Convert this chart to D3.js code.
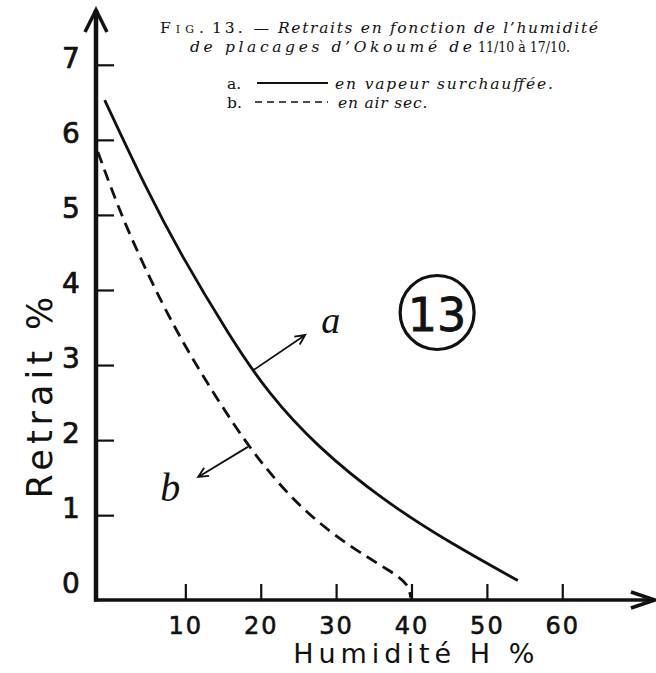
<!DOCTYPE html>
<html>
<head>
<meta charset="utf-8">
<script src="https://cdn.jsdelivr.net/npm/d3@7"></script>
<style>
  body { margin: 0; background: #fff; }
  svg { display: block; }
</style>
</head>
<body>
<script>
// Retrait (%) vs humidité (%) - Fig. 13, placages d'Okoumé
let svgWidth = 656;
let svgHeight = 673;

// tick values
let xTicks = [10, 20, 30, 40, 50, 60];
let yTicks = [0, 1, 2, 3, 4, 5, 6, 7];

// curve a : en vapeur surchauffée (solid)
let humA = [-0.7, 4.9, 9.3, 15.9, 21.0, 27.5, 36.2, 45.1, 54.1];
let retA = [6.53, 5.33, 4.49, 3.38, 2.62, 1.91, 1.20, 0.63, 0.13];

// curve b : en air sec (dashed)
let humB = [-1.6, 1.7, 6.2, 9.2, 11.8, 16.3, 20.3, 25.6, 31.8, 37.5, 39.6, 39.9];
let retB = [5.84, 4.93, 3.96, 3.39, 2.94, 2.22, 1.66, 1.06, 0.58, 0.24, 0.08, -0.1];

let ink = "#111";

let svg = d3.select("body")
  .append("svg")
  .attr("width", svgWidth)
  .attr("height", svgHeight)
  .style("background", "#fff");

let xScale = d3.scaleLinear()
  .domain([-1.85, 72.3])
  .range([96, 655]);

let yScale = d3.scaleLinear()
  .domain([-0.13, 7.73])
  .range([600, 10]);

let x0 = xScale.domain()[0];
let y0 = yScale.domain()[0];

// y axis, ticks pointing inward
let leftAxis = d3.axisLeft(yScale)
  .tickValues(yTicks)
  .tickSizeInner(-18)
  .tickSizeOuter(0);

let yAxisG = svg.append("g")
  .attr("transform", `translate(${xScale(x0)}, 0)`)
  .call(leftAxis);

yAxisG.select(".domain").remove();
yAxisG.selectAll(".tick line")
  .attr("stroke", ink)
  .attr("stroke-width", 2.2)
  .filter(d => d === 0).remove();
yAxisG.selectAll(".tick text")
  .attr("x", -25)
  .attr("dy", null)
  .attr("y", -7)
  .attr("dominant-baseline", "central")
  .attr("text-anchor", "middle")
  .attr("font-family", "DejaVu Sans")
  .attr("font-size", 28)
  .attr("fill", ink)
  .attr("stroke", ink)
  .attr("stroke-width", 0.7);

// x axis, ticks pointing up
let bottomAxis = d3.axisBottom(xScale)
  .tickValues(xTicks)
  .tickSizeInner(-16)
  .tickSizeOuter(0);

let xAxisG = svg.append("g")
  .attr("transform", `translate(0, ${yScale(y0)})`)
  .call(bottomAxis);

xAxisG.select(".domain").remove();
xAxisG.selectAll(".tick line")
  .attr("stroke", ink)
  .attr("stroke-width", 2.2);
xAxisG.selectAll(".tick text")
  .attr("dy", null)
  .attr("y", 26)
  .attr("dominant-baseline", "central")
  .attr("font-family", "DejaVu Sans")
  .attr("font-size", 24)
  .attr("letter-spacing", 2)
  .attr("fill", ink)
  .attr("stroke", ink)
  .attr("stroke-width", 0.6);

// axis lines with arrows
let xMax = xScale.domain()[1];
let yMax = yScale.domain()[1];

svg.append("line")
  .attr("x1", xScale(x0)).attr("y1", yScale(y0) + 1.5)
  .attr("x2", xScale(x0)).attr("y2", yScale(yMax))
  .attr("stroke", ink).attr("stroke-width", 4.5);

svg.append("path")
  .attr("d", `M${xScale(x0) - 11},${yScale(yMax) + 22} L${xScale(x0)},${yScale(yMax)} L${xScale(x0) + 11},${yScale(yMax) + 22}`)
  .attr("fill", "none").attr("stroke", ink).attr("stroke-width", 3.5);

svg.append("line")
  .attr("x1", xScale(x0) - 2).attr("y1", yScale(y0))
  .attr("x2", xScale(xMax)).attr("y2", yScale(y0))
  .attr("stroke", ink).attr("stroke-width", 3.5);

svg.append("path")
  .attr("d", `M${xScale(xMax) - 24},${yScale(y0) - 8} L${xScale(xMax)},${yScale(y0)} L${xScale(xMax) - 24},${yScale(y0) + 8}`)
  .attr("fill", "none").attr("stroke", ink).attr("stroke-width", 3.5);

// axis titles
svg.append("text")
  .attr("transform", `translate(40, ${yScale(2.6)}) rotate(-90)`)
  .attr("text-anchor", "middle")
  .attr("dominant-baseline", "central")
  .attr("font-family", "DejaVu Sans")
  .attr("font-size", 35)
  .attr("letter-spacing", 5)
  .attr("fill", ink)
  .text("Retrait %");

svg.append("text")
  .attr("x", xScale(24.3))
  .attr("y", 663)
  .attr("font-family", "DejaVu Sans")
  .attr("font-size", 27)
  .attr("letter-spacing", 5)
  .attr("fill", ink)
  .text("Humidité H %");

// curves
let lineA = d3.line()
  .x((d, i) => xScale(humA[i]))
  .y((d, i) => yScale(retA[i]))
  .curve(d3.curveBasis);

let lineB = d3.line()
  .x((d, i) => xScale(humB[i]))
  .y((d, i) => yScale(retB[i]))
  .curve(d3.curveBasis);

svg.append("path")
  .attr("d", lineA(humA))
  .attr("fill", "none")
  .attr("stroke", ink)
  .attr("stroke-width", 2.8);

svg.append("path")
  .attr("d", lineB(humB))
  .attr("fill", "none")
  .attr("stroke", ink)
  .attr("stroke-width", 2.8)
  .attr("stroke-dasharray", "12 7");

// annotation arrows a / b
function arrow(fromX, fromY, toX, toY) {
  let x1 = xScale(fromX), y1 = yScale(fromY);
  let x2 = xScale(toX), y2 = yScale(toY);
  let ang = Math.atan2(y2 - y1, x2 - x1);
  let h = 11, spread = 0.45;
  svg.append("path")
    .attr("d", `M${x1},${y1} L${x2},${y2}` +
      ` M${x2 - h * Math.cos(ang - spread)},${y2 - h * Math.sin(ang - spread)} L${x2},${y2}` +
      ` L${x2 - h * Math.cos(ang + spread)},${y2 - h * Math.sin(ang + spread)}`)
    .attr("fill", "none")
    .attr("stroke", ink)
    .attr("stroke-width", 1.8);
}

arrow(19.0, 2.93, 25.9, 3.4);
arrow(18.3, 1.91, 11.7, 1.51);

svg.append("text")
  .attr("x", xScale(29.3)).attr("y", yScale(3.6))
  .attr("text-anchor", "middle").attr("dominant-baseline", "central")
  .attr("font-family", "Liberation Serif").attr("font-style", "italic")
  .attr("font-size", 38).attr("fill", ink)
  .text("a");

svg.append("text")
  .attr("x", xScale(8.0)).attr("y", yScale(1.37))
  .attr("text-anchor", "middle").attr("dominant-baseline", "central")
  .attr("font-family", "Liberation Serif").attr("font-style", "italic")
  .attr("font-size", 40).attr("fill", ink)
  .text("b");

// figure number in circle
svg.append("circle")
  .attr("cx", xScale(43.4)).attr("cy", yScale(3.7))
  .attr("r", 37)
  .attr("fill", "none").attr("stroke", ink).attr("stroke-width", 3.2);

svg.append("text")
  .attr("x", xScale(43.4)).attr("y", yScale(3.7) + 2)
  .attr("text-anchor", "middle").attr("dominant-baseline", "central")
  .attr("font-family", "DejaVu Sans")
  .attr("font-size", 46).attr("fill", ink)
  .attr("stroke", ink).attr("stroke-width", 0.8)
  .text("13");

// caption
let serif = "DejaVu Serif";

function cap(txt, x, y, len, italic, adjust) {
  let t = svg.append("text")
    .attr("x", x).attr("y", y)
    .attr("font-family", serif)
    .attr("font-style", italic ? "italic" : "normal")
    .attr("font-size", 15.5)
    .attr("fill", ink)
    .text(txt);
  if (len) {
    t.attr("textLength", len).attr("lengthAdjust", adjust || "spacing");
  }
  return t;
}

cap("Fig.", 160, 33, 44, false).attr("font-variant", "small-caps");
cap("13. —", 212, 33, 57, false);
cap("Retraits en fonction de l\u2019humidité", 278, 33, 320, true);
cap("de placages d\u2019Okoumé de", 190, 52, 282, true);
cap("11/10 à 17/10.", 478, 52, 92, false, "spacingAndGlyphs");

// legend
cap("a.", 227, 89, 0, false);
cap("b.", 227, 108, 0, false);
cap("en vapeur surchauffée.", 335, 89, 218, true);
cap("en air sec.", 338, 108, 0, true).attr("letter-spacing", 0.8);

svg.append("line")
  .attr("x1", 257).attr("x2", 328)
  .attr("y1", 83).attr("y2", 83)
  .attr("stroke", ink).attr("stroke-width", 2);

svg.append("line")
  .attr("x1", 255).attr("x2", 328)
  .attr("y1", 102).attr("y2", 102)
  .attr("stroke", ink).attr("stroke-width", 1.6)
  .attr("stroke-dasharray", "7 5");
</script>
</body>
</html>
